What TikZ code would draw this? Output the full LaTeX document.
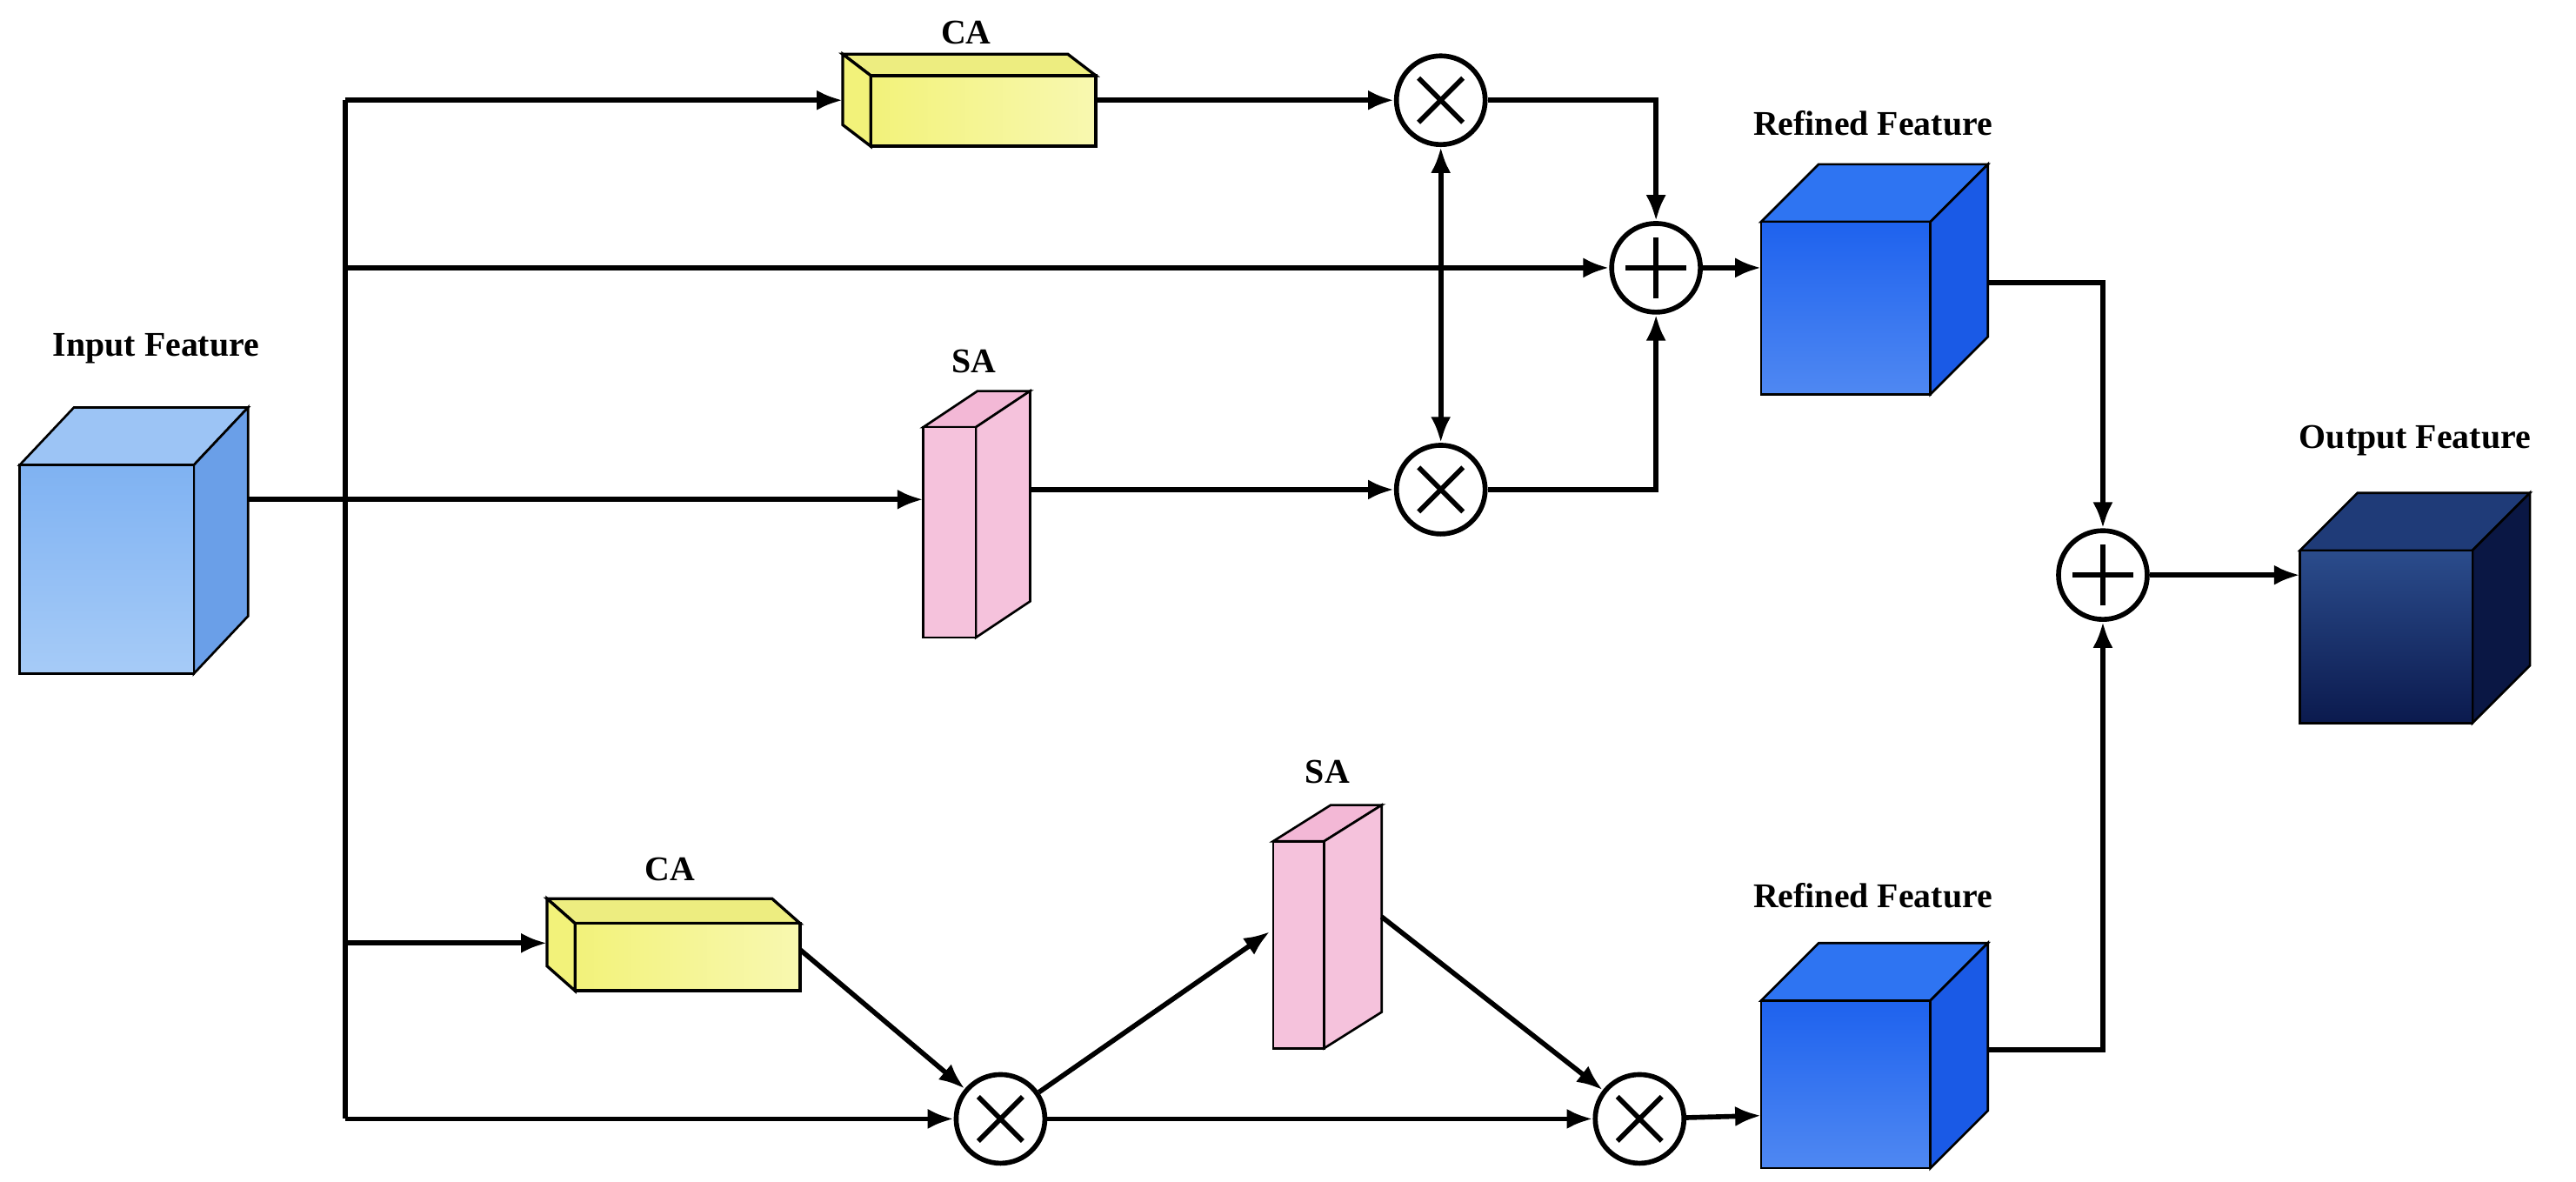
\documentclass[tikz,border=0pt]{standalone}
\usepackage{fontspec}
\setmainfont{Liberation Serif}
\usetikzlibrary{arrows.meta}
\definecolor{inF}{HTML}{7FB2F2}\definecolor{inF2}{HTML}{A6CBF7}
\definecolor{inT}{HTML}{9CC4F5}\definecolor{inS}{HTML}{6A9FE8}
\definecolor{rfF}{HTML}{1E62EE}\definecolor{rfF2}{HTML}{4F88F2}
\definecolor{rfT}{HTML}{2E74F2}\definecolor{rfS}{HTML}{1A5AE6}
\definecolor{ouF}{HTML}{0B1A4E}\definecolor{ouF2}{HTML}{2B4C8C}
\definecolor{ouT}{HTML}{1F3B78}\definecolor{ouS}{HTML}{0A1744}
\definecolor{caF}{HTML}{F2F27A}\definecolor{caF2}{HTML}{F8F8B0}\definecolor{caT}{HTML}{EDED80}
\definecolor{saF}{HTML}{F5C2DC}\definecolor{saT}{HTML}{F3B8D6}
\begin{document}
\begin{tikzpicture}[x=0.02cm,y=-0.02cm,
  conn/.style={line width=1.7pt,-{Latex[length=9pt,width=7pt]}},
  ln/.style={line width=1.7pt},
  lbl/.style={font=\bfseries\fontsize{12}{14}\selectfont},
  op/.style={circle,draw,line width=1.7pt,minimum size=1.08cm,inner sep=0pt,fill=white},
  mul/.style={op,path picture={\draw[line width=1.7pt] ([shift={(-0.27cm,-0.27cm)}]path picture bounding box.center)--([shift={(0.27cm,0.27cm)}]path picture bounding box.center) ([shift={(-0.27cm,0.27cm)}]path picture bounding box.center)--([shift={(0.27cm,-0.27cm)}]path picture bounding box.center);}},
  add/.style={op,path picture={\draw[line width=1.7pt] ([xshift=-0.37cm]path picture bounding box.center)--([xshift=0.37cm]path picture bounding box.center) ([yshift=-0.37cm]path picture bounding box.center)--([yshift=0.37cm]path picture bounding box.center);}}
]
\useasboundingbox (0,0) rectangle (1568,719.4);
\newcommand{\mybox}[9]{%
  \fill[#8,draw=black,line width=0.8pt] (#1,#2)--(#1+#5,#2+#6)--(#1+#3+#5,#2+#6)--(#1+#3,#2)--cycle;
  \fill[#9,draw=black,line width=0.8pt] (#1+#3,#2)--(#1+#3+#5,#2+#6)--(#1+#3+#5,#2+#4+#6)--(#1+#3,#2+#4)--cycle;
  \shade[#7,draw=black,line width=0.8pt] (#1,#2) rectangle (#1+#3,#2+#4);}
\newcommand{\myboxl}[6]{%
  \fill[caT,draw=black,line width=1pt] (#1,#2)--(#1+#5,#2+#6)--(#1+#3+#5,#2+#6)--(#1+#3,#2)--cycle;
  \fill[caF,draw=black,line width=1pt] (#1,#2)--(#1+#5,#2+#6)--(#1+#5,#2+#4+#6)--(#1,#2+#4)--cycle;
  \shade[left color=caF,right color=caF2,draw=black,line width=1pt] (#1,#2) rectangle (#1+#3,#2+#4);}
% input
\mybox{12}{283}{106}{127}{33}{-35}{top color=inF,bottom color=inF2}{fill=inT}{fill=inS}
\coordinate (inR) at (151,304);
\node[lbl] at (95,212) {Input Feature};
% CA top
\myboxl{530}{46}{137}{43}{-17}{-13}
\coordinate (ca1L) at (513,61); \coordinate (ca1R) at (667,61);
\node[lbl] at (588,20) {CA};
% SA top
\mybox{562}{260}{32}{128}{33}{-22}{top color=saF,bottom color=saF}{fill=saT}{fill=saF}
\coordinate (sa1L) at (562,304); \coordinate (sa1R) at (627,298);
\node[lbl] at (593,220) {SA};
% refined 1
\mybox{1072}{135}{103}{105}{35}{-35}{top color=rfF,bottom color=rfF2}{fill=rfT}{fill=rfS}
\coordinate (rf1L) at (1072,163); \coordinate (rf1R) at (1210,172);
\node[lbl] at (1140,75) {Refined Feature};
% output
\mybox{1400}{335}{105}{105}{35}{-35}{top color=ouF2,bottom color=ouF}{fill=ouT}{fill=ouS}
\coordinate (outL) at (1400,350);
\node[lbl] at (1470,268) {Output Feature};
% CA bottom
\myboxl{350}{562}{137}{41}{-17}{-15}
\coordinate (ca2L) at (333,574); \coordinate (ca2R) at (487,578);
\node[lbl] at (408,529) {CA};
% SA bottom
\mybox{775}{512}{31}{126}{35}{-22}{top color=saF,bottom color=saF}{fill=saT}{fill=saF}
\coordinate (sa2L) at (773,567); \coordinate (sa2R) at (841,558);
\node[lbl] at (808,470) {SA};
% refined 2
\mybox{1072}{609}{103}{102}{35}{-35}{top color=rfF,bottom color=rfF2}{fill=rfT}{fill=rfS}
\coordinate (rf2L) at (1072,679); \coordinate (rf2R) at (1210,639);
\node[lbl] at (1140,545) {Refined Feature};
% operators
\node[mul] (m1) at (877,61) {};
\node[mul] (m2) at (877,298) {};
\node[add] (a1) at (1008,163) {};
\node[add] (a2) at (1280,350) {};
\node[mul] (m3) at (609,681) {};
\node[mul] (m4) at (998,681) {};
% trunk
\coordinate (t1) at (210,61); \coordinate (t2) at (210,163); \coordinate (t3) at (210,304);
\coordinate (t4) at (210,574); \coordinate (t5) at (210,681);
\draw[ln] (t1)--(t5);
\draw[ln] (inR)--(t3);
\draw[conn] (t3)--(sa1L);
\draw[conn] (t1)--(ca1L);
\draw[conn] (t2)--(a1);
\draw[conn] (ca1R)--(m1);
\draw[conn] (sa1R)--(m2);
\draw[conn] (m1.east)-|(a1);
\draw[conn] (m2.east)-|(a1);
\draw[line width=1.7pt,{Latex[length=9pt,width=7pt]}-{Latex[length=9pt,width=7pt]}] (m1)--(m2);
\draw[conn] (a1)--(rf1L);
\draw[conn] (rf1R)-|(a2);
\draw[conn] (a2)--(outL);
\draw[conn] (t4)--(ca2L);
\draw[conn] (t5)--(m3);
\draw[conn] (ca2R)--(m3);
\draw[conn] (m3)--(sa2L);
\draw[conn] (m3)--(m4);
\draw[conn] (sa2R)--(m4);
\draw[conn] (m4)--(rf2L);
\draw[conn] (rf2R)-|(a2);
\end{tikzpicture}
\end{document}
